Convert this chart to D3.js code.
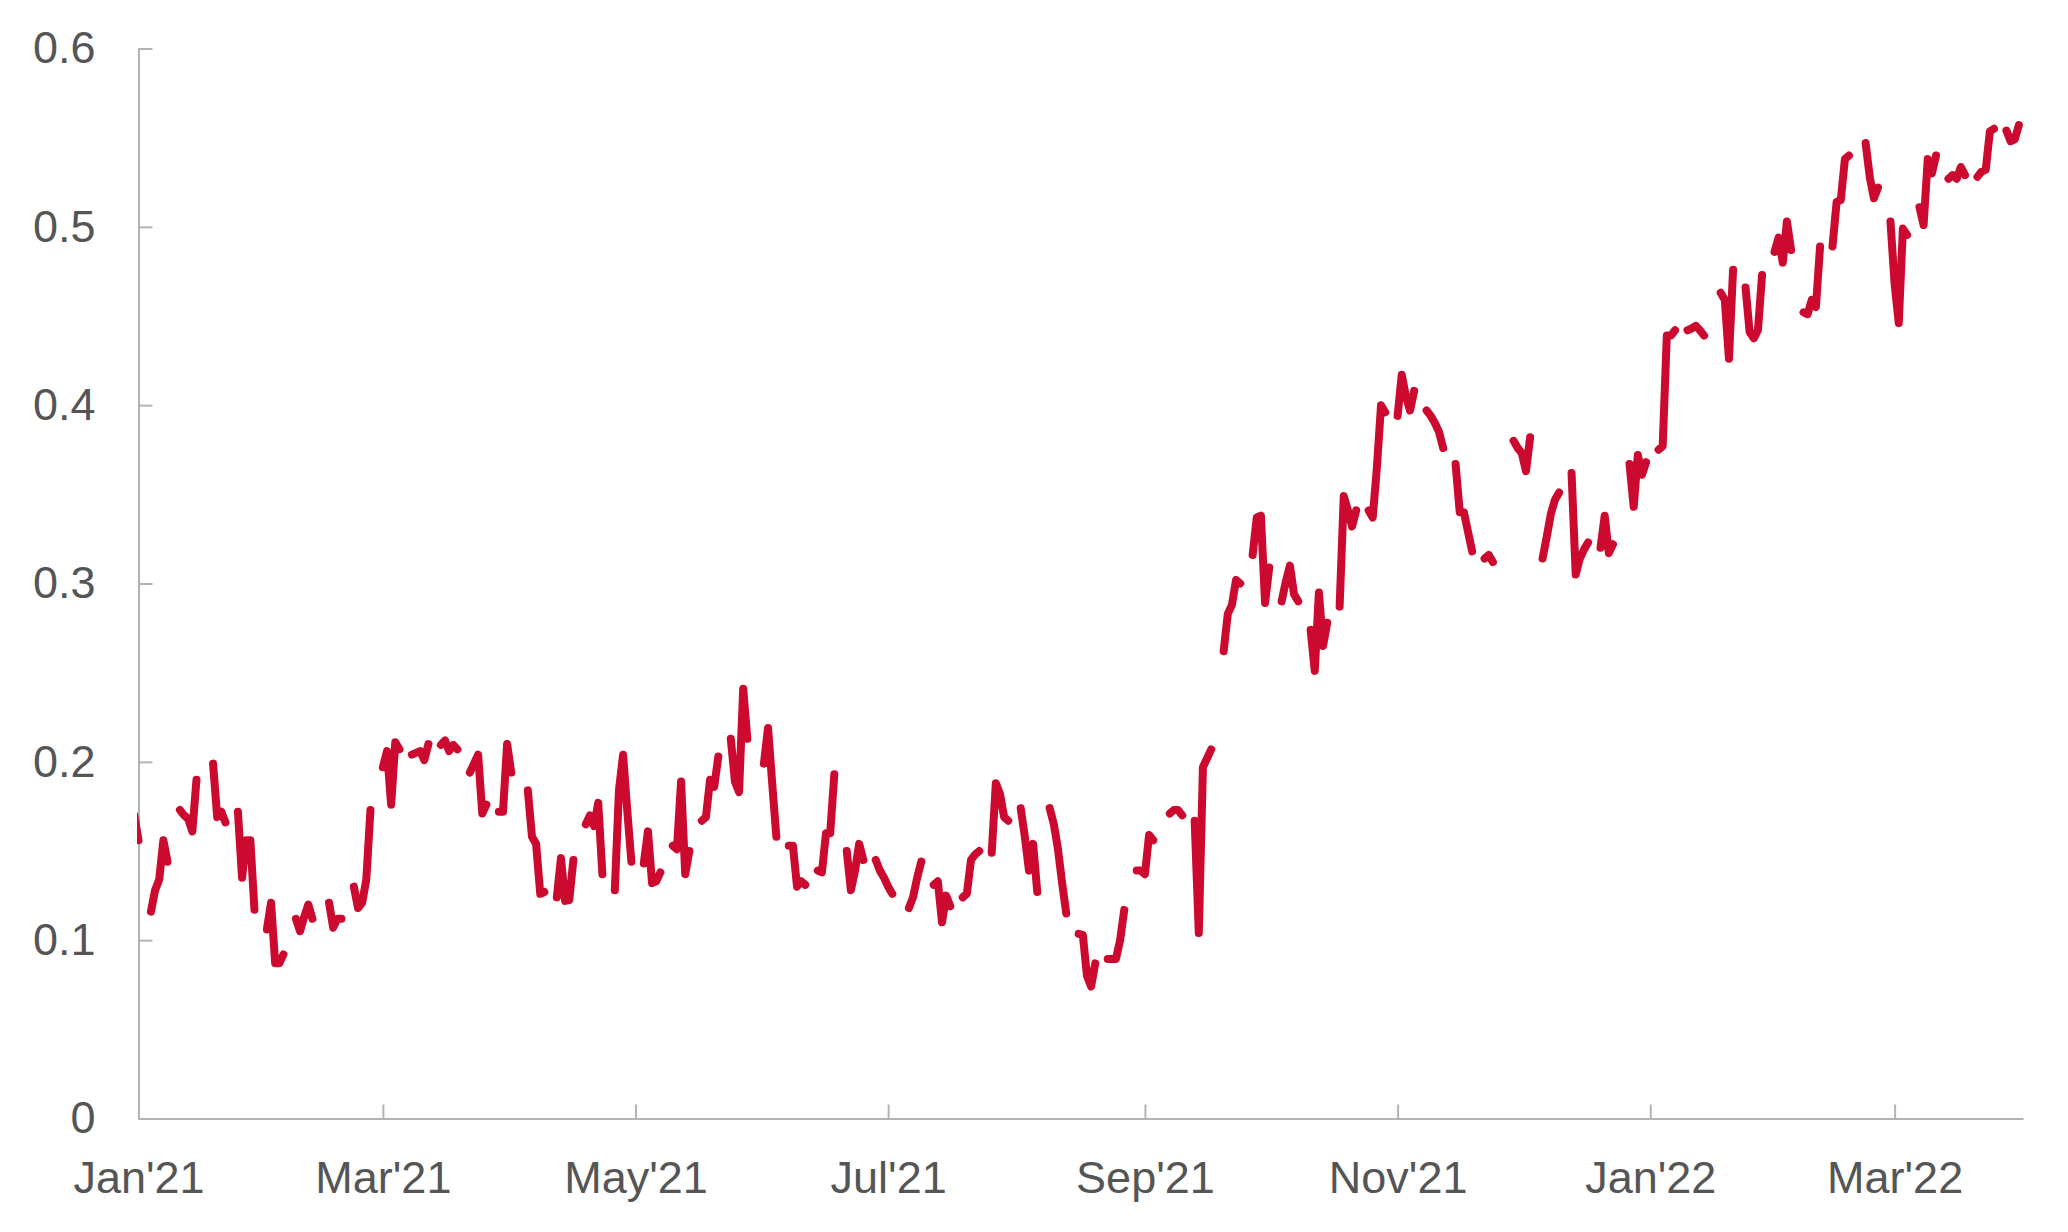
<!DOCTYPE html>
<html>
<head>
<meta charset="utf-8">
<script src="https://cdn.jsdelivr.net/npm/d3@7/dist/d3.min.js"></script>
<style>
  html, body { margin: 0; padding: 0; background: #ffffff; }
  svg { display: block; }
  .axis text { font-family: "Liberation Sans", Arial, Helvetica, sans-serif; font-size: 45px; fill: #555555; }
  .axis path, .axis line { stroke: #b3b3b3; stroke-width: 2px; }
</style>
</head>
<body>
<svg id="chart" width="2068" height="1232"></svg>
<script>
// ---- Data (weekly rows, Monday..Friday; null = no value / holiday) ----
const weekStarts = [
  "2020-12-28","2021-01-04","2021-01-11","2021-01-18","2021-01-25","2021-02-01","2021-02-08","2021-02-15",
  "2021-02-22","2021-03-01","2021-03-08","2021-03-15","2021-03-22","2021-03-29","2021-04-05","2021-04-12",
  "2021-04-19","2021-04-26","2021-05-03","2021-05-10","2021-05-17","2021-05-24","2021-05-31","2021-06-07",
  "2021-06-14","2021-06-21","2021-06-28","2021-07-05","2021-07-12","2021-07-19","2021-07-26","2021-08-02",
  "2021-08-09","2021-08-16","2021-08-23","2021-08-30","2021-09-06","2021-09-13","2021-09-20","2021-09-27",
  "2021-10-04","2021-10-11","2021-10-18","2021-10-25","2021-11-01","2021-11-08","2021-11-15","2021-11-22",
  "2021-11-29","2021-12-06","2021-12-13","2021-12-20","2021-12-27","2022-01-03","2022-01-10","2022-01-17",
  "2022-01-24","2022-01-31","2022-02-07","2022-02-14","2022-02-21","2022-02-28","2022-03-07","2022-03-14",
  "2022-03-21","2022-03-28"
];
const weekValues = [
  [null, null, null, 0.170, 0.156],
  [0.116, 0.128, 0.134, 0.156, 0.144],
  [0.173, 0.170, 0.168, 0.161, 0.190],
  [null, 0.199, 0.169, 0.172, 0.166],
  [0.172, 0.135, 0.156, 0.156, 0.117],
  [0.106, 0.121, 0.087, 0.087, 0.092],
  [0.112, 0.105, 0.113, 0.120, 0.112],
  [null, 0.121, 0.107, 0.112, 0.112],
  [0.130, 0.118, 0.121, 0.134, 0.173],
  [0.197, 0.206, 0.176, 0.211, 0.207],
  [0.204, 0.205, 0.206, 0.201, 0.210],
  [0.2095, 0.212, 0.206, 0.2095, 0.207],
  [0.194, 0.199, 0.204, 0.171, 0.176],
  [0.172, 0.172, 0.210, 0.194, null],
  [0.184, 0.158, 0.154, 0.126, 0.127],
  [0.124, 0.146, 0.122, 0.1225, 0.145],
  [0.165, 0.170, 0.164, 0.177, 0.137],
  [0.128, 0.184, 0.204, 0.173, 0.144],
  [0.143, 0.161, 0.132, 0.133, 0.138],
  [0.153, 0.151, 0.189, 0.137, 0.150],
  [0.167, 0.169, 0.190, 0.186, 0.203],
  [0.213, 0.189, 0.183, 0.241, 0.213],
  [null, 0.199, 0.219, 0.188, 0.158],
  [0.153, 0.153, 0.130, 0.133, 0.131],
  [0.139, 0.138, 0.160, 0.160, 0.193],
  [0.150, 0.128, 0.139, 0.154, 0.145],
  [0.145, 0.139, 0.135, 0.130, 0.126],
  [null, 0.118, 0.124, 0.135, 0.144],
  [0.131, 0.133, 0.110, 0.125, 0.119],
  [0.124, 0.126, 0.145, 0.148, 0.150],
  [0.149, 0.188, 0.182, 0.169, 0.167],
  [0.174, 0.158, 0.139, 0.154, 0.127],
  [0.174, 0.165, 0.151, 0.132, 0.115],
  [0.1035, 0.103, 0.080, 0.074, 0.087],
  [0.0895, 0.0895, 0.0895, 0.100, 0.117],
  [0.139, 0.139, 0.137, 0.159, 0.156],
  [null, 0.171, 0.173, 0.173, 0.170],
  [0.167, 0.104, 0.197, 0.202, 0.207],
  [0.262, 0.283, 0.288, 0.302, 0.300],
  [0.316, 0.337, 0.338, 0.289, 0.309],
  [0.290, 0.301, 0.310, 0.294, 0.290],
  [0.274, 0.251, 0.295, 0.265, 0.278],
  [0.287, 0.349, 0.341, 0.332, 0.341],
  [0.341, 0.337, 0.365, 0.400, 0.396],
  [0.394, 0.417, 0.405, 0.397, 0.408],
  [0.397, 0.394, 0.390, 0.385, 0.376],
  [0.367, 0.340, 0.340, 0.329, 0.318],
  [0.314, 0.316, 0.312, null, null],
  [0.380, 0.376, 0.373, 0.363, 0.382],
  [0.314, 0.326, 0.339, 0.347, 0.351],
  [0.362, 0.305, 0.314, 0.319, 0.323],
  [0.320, 0.338, 0.317, 0.322, null],
  [0.367, 0.343, 0.372, 0.361, 0.368],
  [0.375, 0.377, 0.439, 0.439, 0.442],
  [0.442, 0.443, 0.4445, 0.442, 0.439],
  [null, 0.463, 0.459, 0.426, 0.476],
  [0.466, 0.441, 0.4375, 0.442, 0.473],
  [0.486, 0.494, 0.480, 0.503, 0.487],
  [0.452, 0.451, 0.459, 0.455, 0.489],
  [0.489, 0.514, 0.515, 0.538, 0.540],
  [null, 0.547, 0.528, 0.516, 0.522],
  [0.503, 0.468, 0.446, 0.499, 0.4955],
  [0.511, 0.501, 0.538, 0.530, 0.540],
  [0.527, 0.529, 0.527, 0.5335, 0.529],
  [0.528, 0.531, 0.532, 0.5535, 0.555],
  [0.554, 0.548, 0.549, 0.557, null]
];
const yTickValues = [0, 0.1, 0.2, 0.3, 0.4, 0.5, 0.6];
const xDomain = ["2021-01-01", "2022-04-01"];

// ---- Build daily series: weekdays joined, weekends/holidays break the line ----
const parse = d3.utcParse("%Y-%m-%d");
const points = [];
weekStarts.forEach((ws, i) => {
  const mon = parse(ws);
  weekValues[i].forEach((v, d) => {
    points.push({ date: d3.utcDay.offset(mon, d), value: v });
  });
  points.push({ date: d3.utcDay.offset(mon, 5), value: null }); // weekend break
});

// ---- Layout ----
const svg = d3.select("#chart");
const x = d3.scaleUtc().domain(xDomain.map(parse)).range([138.5, 2023]);
const y = d3.scaleLinear().domain([0, 0.6]).range([1118.5, 48.5]);

svg.append("defs").append("clipPath").attr("id", "plotclip")
  .append("rect").attr("x", 137).attr("y", 0).attr("width", 1900).attr("height", 1232);

// x axis
const xAxis = d3.axisBottom(x)
  .ticks(d3.utcMonth.every(2))
  .tickFormat(d3.utcFormat("%b'%y"))
  .tickSizeInner(-14)
  .tickSizeOuter(0)
  .tickPadding(43);
svg.append("g").attr("class", "axis x-axis")
  .attr("transform", `translate(0,${y(0)})`)
  .call(xAxis);

// y axis
const yAxis = d3.axisLeft(y)
  .tickValues(yTickValues)
  .tickFormat(d => d === 0 ? "0" : d3.format(".1f")(d))
  .tickSizeInner(-14)
  .tickSizeOuter(0)
  .tickPadding(43);
svg.append("g").attr("class", "axis y-axis")
  .attr("transform", `translate(${x(parse(xDomain[0]))},0)`)
  .call(yAxis);

// line
const line = d3.line()
  .defined(d => d.value !== null)
  .x(d => x(d.date))
  .y(d => y(d.value));

svg.append("path")
  .datum(points)
  .attr("clip-path", "url(#plotclip)")
  .attr("fill", "none")
  .attr("stroke", "#cc0a2f")
  .attr("stroke-width", 8)
  .attr("stroke-linejoin", "round")
  .attr("stroke-linecap", "round")
  .attr("d", line);
</script>
</body>
</html>
